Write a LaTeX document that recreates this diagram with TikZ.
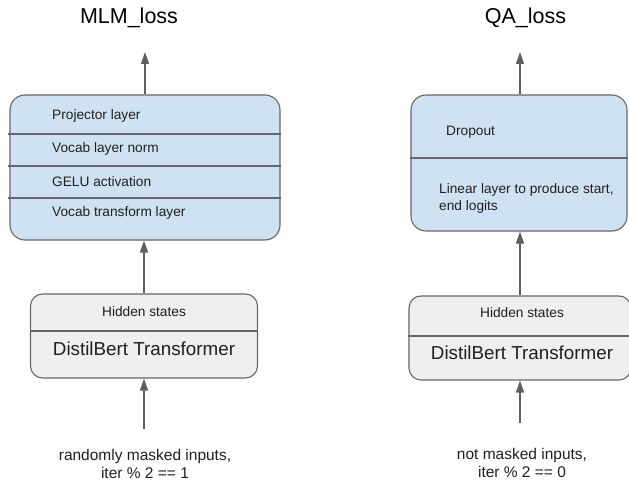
\documentclass[tikz,border=0pt]{standalone}
\usepackage{fontspec}
\setmainfont{Liberation Sans}
\usetikzlibrary{arrows.meta}
\definecolor{bluefill}{HTML}{CFE2F3}
\definecolor{grayfill}{HTML}{EFEFEF}
\definecolor{edge}{HTML}{666666}
\definecolor{arrowc}{HTML}{5F5F5F}
\definecolor{txt}{HTML}{1F1F1F}
\begin{document}
\begin{tikzpicture}[x=1pt,y=-1pt,
  bluebox/.style={draw=edge, line width=1.1pt, fill=bluefill, rounded corners=15pt, inner sep=0pt},
  graybox/.style={draw=edge, line width=1.1pt, fill=grayfill, rounded corners=12pt, inner sep=0pt},
  divider/.style={draw=edge, line width=1.1pt},
  arr/.style={draw=arrowc, line width=1.2pt, -{Triangle[length=12pt,width=8pt]}},
  small/.style={font=\fontsize{13.7}{17}\selectfont, text=txt, inner sep=0pt, text height=0.72em, text depth=0em},
  big/.style={font=\fontsize{18.8}{22}\selectfont, text=txt, inner sep=0pt, text height=0.72em, text depth=0em},
  title/.style={font=\fontsize{21.5}{25}\selectfont, text=black, inner sep=0pt, text height=0.72em, text depth=0em},
  inlabel/.style={font=\fontsize{15.5}{17.5}\selectfont, text=txt, inner sep=0pt, align=center}
]
\useasboundingbox (0,0) rectangle (629,481);
\clip (0,0) rectangle (629,481);

% ---------- left column ----------
\node[title] (t1) at (129,20) {MLM\_loss};
\coordinate (t1a) at (145,52);

\node[bluebox, minimum width=270pt, minimum height=145pt] (b1) at (145,167.5) {};
\draw[divider] (8,134) -- (b1.east |- 0,134);
\draw[divider] (8,166) -- (b1.east |- 0,166);
\draw[divider] (8,198) -- (b1.east |- 0,198);
\node[small, anchor=west] (p1) at (52,116) {Projector layer};
\node[small, anchor=west] (p2) at (52,149) {Vocab layer norm};
\node[small, anchor=west] (p3) at (52,182.5) {GELU activation};
\node[small, anchor=west] (p4) at (52,213) {Vocab transform layer};

\node[graybox, minimum width=227pt, minimum height=84pt] (g1) at (144,336) {};
\draw[divider] (g1.west |- 0,331) -- (g1.east |- 0,331);
\node[small] (h1) at (144,313) {Hidden states};
\node[big] (d1) at (144,351.5) {DistilBert Transformer};

\node[inlabel] (in1) at (145,464) {randomly masked inputs,\\iter \% 2 == 1};
\coordinate (in1a) at (144,429);

\draw[arr] (in1a) -- (g1.south);
\draw[arr] (g1.north) -- (g1.north |- b1.south);
\draw[arr] (b1.north) -- (t1a);

% ---------- right column ----------
\node[title] (t2) at (525.5,20) {QA\_loss};
\coordinate (t2a) at (520,52);

\node[bluebox, minimum width=216pt, minimum height=136pt] (b2) at (519,163) {};
\draw[divider] (b2.west |- 0,158) -- (b2.east |- 0,158);
\node[small, anchor=west] (q1) at (446,132) {Dropout};
\node[small, anchor=west, align=left, text height=, text depth=] (q2) at (439,198) {Linear layer to produce start,\\end logits};

\node[graybox, minimum width=222pt, minimum height=84pt] (g2) at (520,338) {};
\draw[divider] (g2.west |- 0,336) -- (g2.east |- 0,336);
\node[small] (h2) at (522,314) {Hidden states};
\node[big] (d2) at (522,356) {DistilBert Transformer};

\node[inlabel] (in2) at (522,463) {not masked inputs,\\iter \% 2 == 0};
\coordinate (in2a) at (520,423);

\draw[arr] (in2a) -- (g2.south);
\draw[arr] (g2.north) -- (g2.north |- b2.south);
\draw[arr] (b2.north -| t2a) -- (t2a);
\end{tikzpicture}
\end{document}
